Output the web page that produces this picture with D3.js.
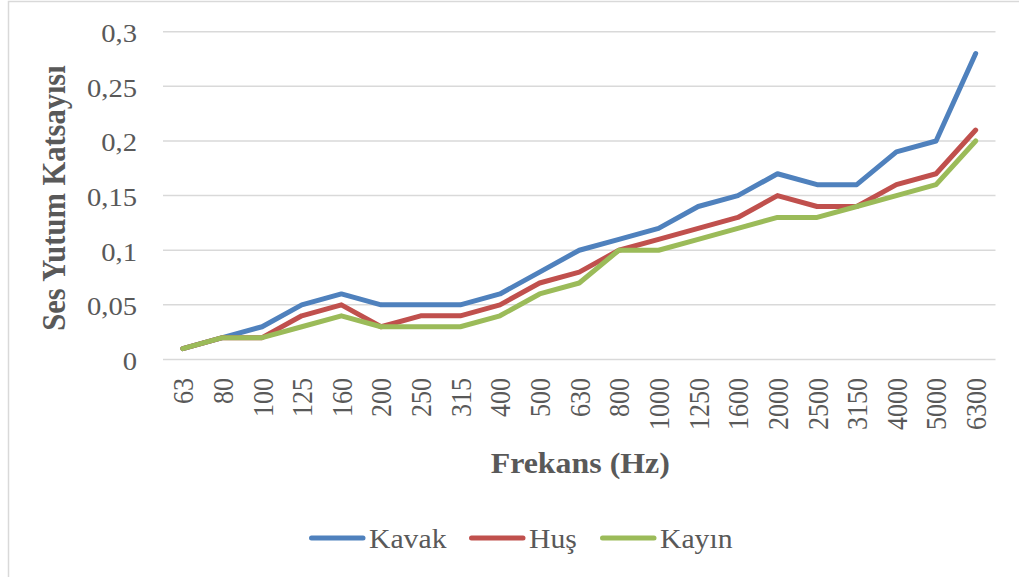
<!DOCTYPE html>
<html>
<head>
<meta charset="utf-8">
<script src="https://cdn.jsdelivr.net/npm/d3@7"></script>
<style>
  html, body { margin: 0; padding: 0; background: #fff; }
  svg { display: block; }
  svg text { font-family: "Liberation Serif", "Times New Roman", serif; fill: #595959; }
</style>
</head>
<body>
<svg id="chart" width="1019" height="577"></svg>
<script>
// Frequency bands (Hz)
const frequencies = ["63","80","100","125","160","200","250","315","400","500","630","800","1000","1250","1600","2000","2500","3150","4000","5000","6300"];

// Sound absorption coefficients per wood species
const kavak = [0.01,0.02,0.03,0.05,0.06,0.05,0.05,0.05,0.06,0.08,0.10,0.11,0.12,0.14,0.15,0.17,0.16,0.16,0.19,0.20,0.28];
const hus   = [0.01,0.02,0.02,0.04,0.05,0.03,0.04,0.04,0.05,0.07,0.08,0.10,0.11,0.12,0.13,0.15,0.14,0.14,0.16,0.17,0.21];
const kayin = [0.01,0.02,0.02,0.03,0.04,0.03,0.03,0.03,0.04,0.06,0.07,0.10,0.10,0.11,0.12,0.13,0.13,0.14,0.15,0.16,0.20];

const seriesNames = ["Kavak", "Huş", "Kayın"];
const seriesColors = ["#4F81BD", "#C0504D", "#9BBB59"];
const yTicks = [0, 0.05, 0.1, 0.15, 0.2, 0.25, 0.3];

const series = [kavak, hus, kayin].map((values, i) => ({
  name: seriesNames[i], color: seriesColors[i], values
}));

const svg = d3.select("#chart");
const font = '"Liberation Serif", "Times New Roman", serif';
const textColor = "#595959";
const stretch = "scale(1.1,1)";   // text is set slightly wide
const lineWidth = 5;

// chart frame
svg.append("rect")
  .attr("x", 8.5).attr("y", 1.5)
  .attr("width", 1040).attr("height", 600)
  .attr("fill", "none").attr("stroke", "#D9D9D9").attr("stroke-width", 1.5);

const plot = { left: 163, right: 995.5, top: 31.7, bottom: 359.5 };

const x = d3.scaleBand().domain(frequencies).range([plot.left, plot.right]);
const y = d3.scaleLinear().domain([0, 0.3]).range([plot.bottom, plot.top]);

// horizontal gridlines
svg.append("g")
  .selectAll("line")
  .data(yTicks)
  .join("line")
  .attr("x1", plot.left).attr("x2", plot.right)
  .attr("y1", d => y(d)).attr("y2", d => y(d))
  .attr("stroke", "#D9D9D9").attr("stroke-width", 1.5);

// y axis labels
const yAxis = d3.axisLeft(y).tickValues(yTicks)
  .tickFormat(d => d3.format("~g")(d).replace(".", ","))
  .tickSize(0);
const gy = svg.append("g").attr("transform", `translate(${plot.left},0)`).call(yAxis);
gy.attr("font-family", null).attr("font-size", null);
gy.select(".domain").remove();
gy.selectAll("text")
  .style("font-family", font).style("font-size", "26px").style("fill", textColor)
  .attr("text-anchor", "end")
  .attr("x", 0).attr("dy", "10px")
  .attr("transform", `translate(-26,0) ${stretch}`);

// x axis labels (rotated)
const xAxis = d3.axisBottom(x).tickSize(0).tickPadding(0);
const gx = svg.append("g").attr("transform", `translate(0,${plot.bottom})`).call(xAxis);
gx.attr("font-family", null).attr("font-size", null);
gx.select(".domain").remove();
gx.selectAll("text")
  .style("font-family", font).style("font-size", "26px").style("fill", textColor)
  .attr("text-anchor", "end")
  .attr("dy", null).attr("y", 0)
  .attr("transform", `translate(1,18.5) ${stretch} rotate(-90)`)
  .attr("dominant-baseline", "central");

// series lines
const line = d3.line()
  .x((d, i) => x(frequencies[i]) + x.bandwidth() / 2)
  .y(d => y(d));

svg.append("g")
  .selectAll("path")
  .data(series)
  .join("path")
  .attr("d", d => line(d.values))
  .attr("fill", "none")
  .attr("stroke", d => d.color)
  .attr("stroke-width", lineWidth)
  .attr("stroke-linejoin", "round")
  .attr("stroke-linecap", "round");

// axis titles
svg.append("text")
  .attr("transform", `translate(${(plot.left + plot.right) / 2 + 1},473) ${stretch}`)
  .attr("text-anchor", "middle")
  .style("font-family", font).style("font-size", "29px").style("font-weight", "bold")
  .style("fill", textColor)
  .text("Frekans (Hz)");

svg.append("text")
  .attr("transform", `translate(53,198) ${stretch} rotate(-90)`)
  .attr("text-anchor", "middle")
  .attr("dominant-baseline", "central")
  .style("font-family", font).style("font-size", "30.5px").style("font-weight", "bold")
  .style("fill", textColor)
  .text("Ses Yutum Katsayısı");

// legend
const legendX = [309, 469, 600];
const legend = svg.append("g")
  .selectAll("g")
  .data(series)
  .join("g")
  .attr("transform", (d, i) => `translate(${legendX[i]},538)`);
legend.append("line")
  .attr("x1", 2.5).attr("x2", 54).attr("y1", 0).attr("y2", 0)
  .attr("stroke", d => d.color).attr("stroke-width", lineWidth)
  .attr("stroke-linecap", "round");
legend.append("text")
  .attr("transform", `translate(60,10) ${stretch}`)
  .style("font-family", font).style("font-size", "27px").style("fill", textColor)
  .text(d => d.name);
</script>
</body>
</html>
